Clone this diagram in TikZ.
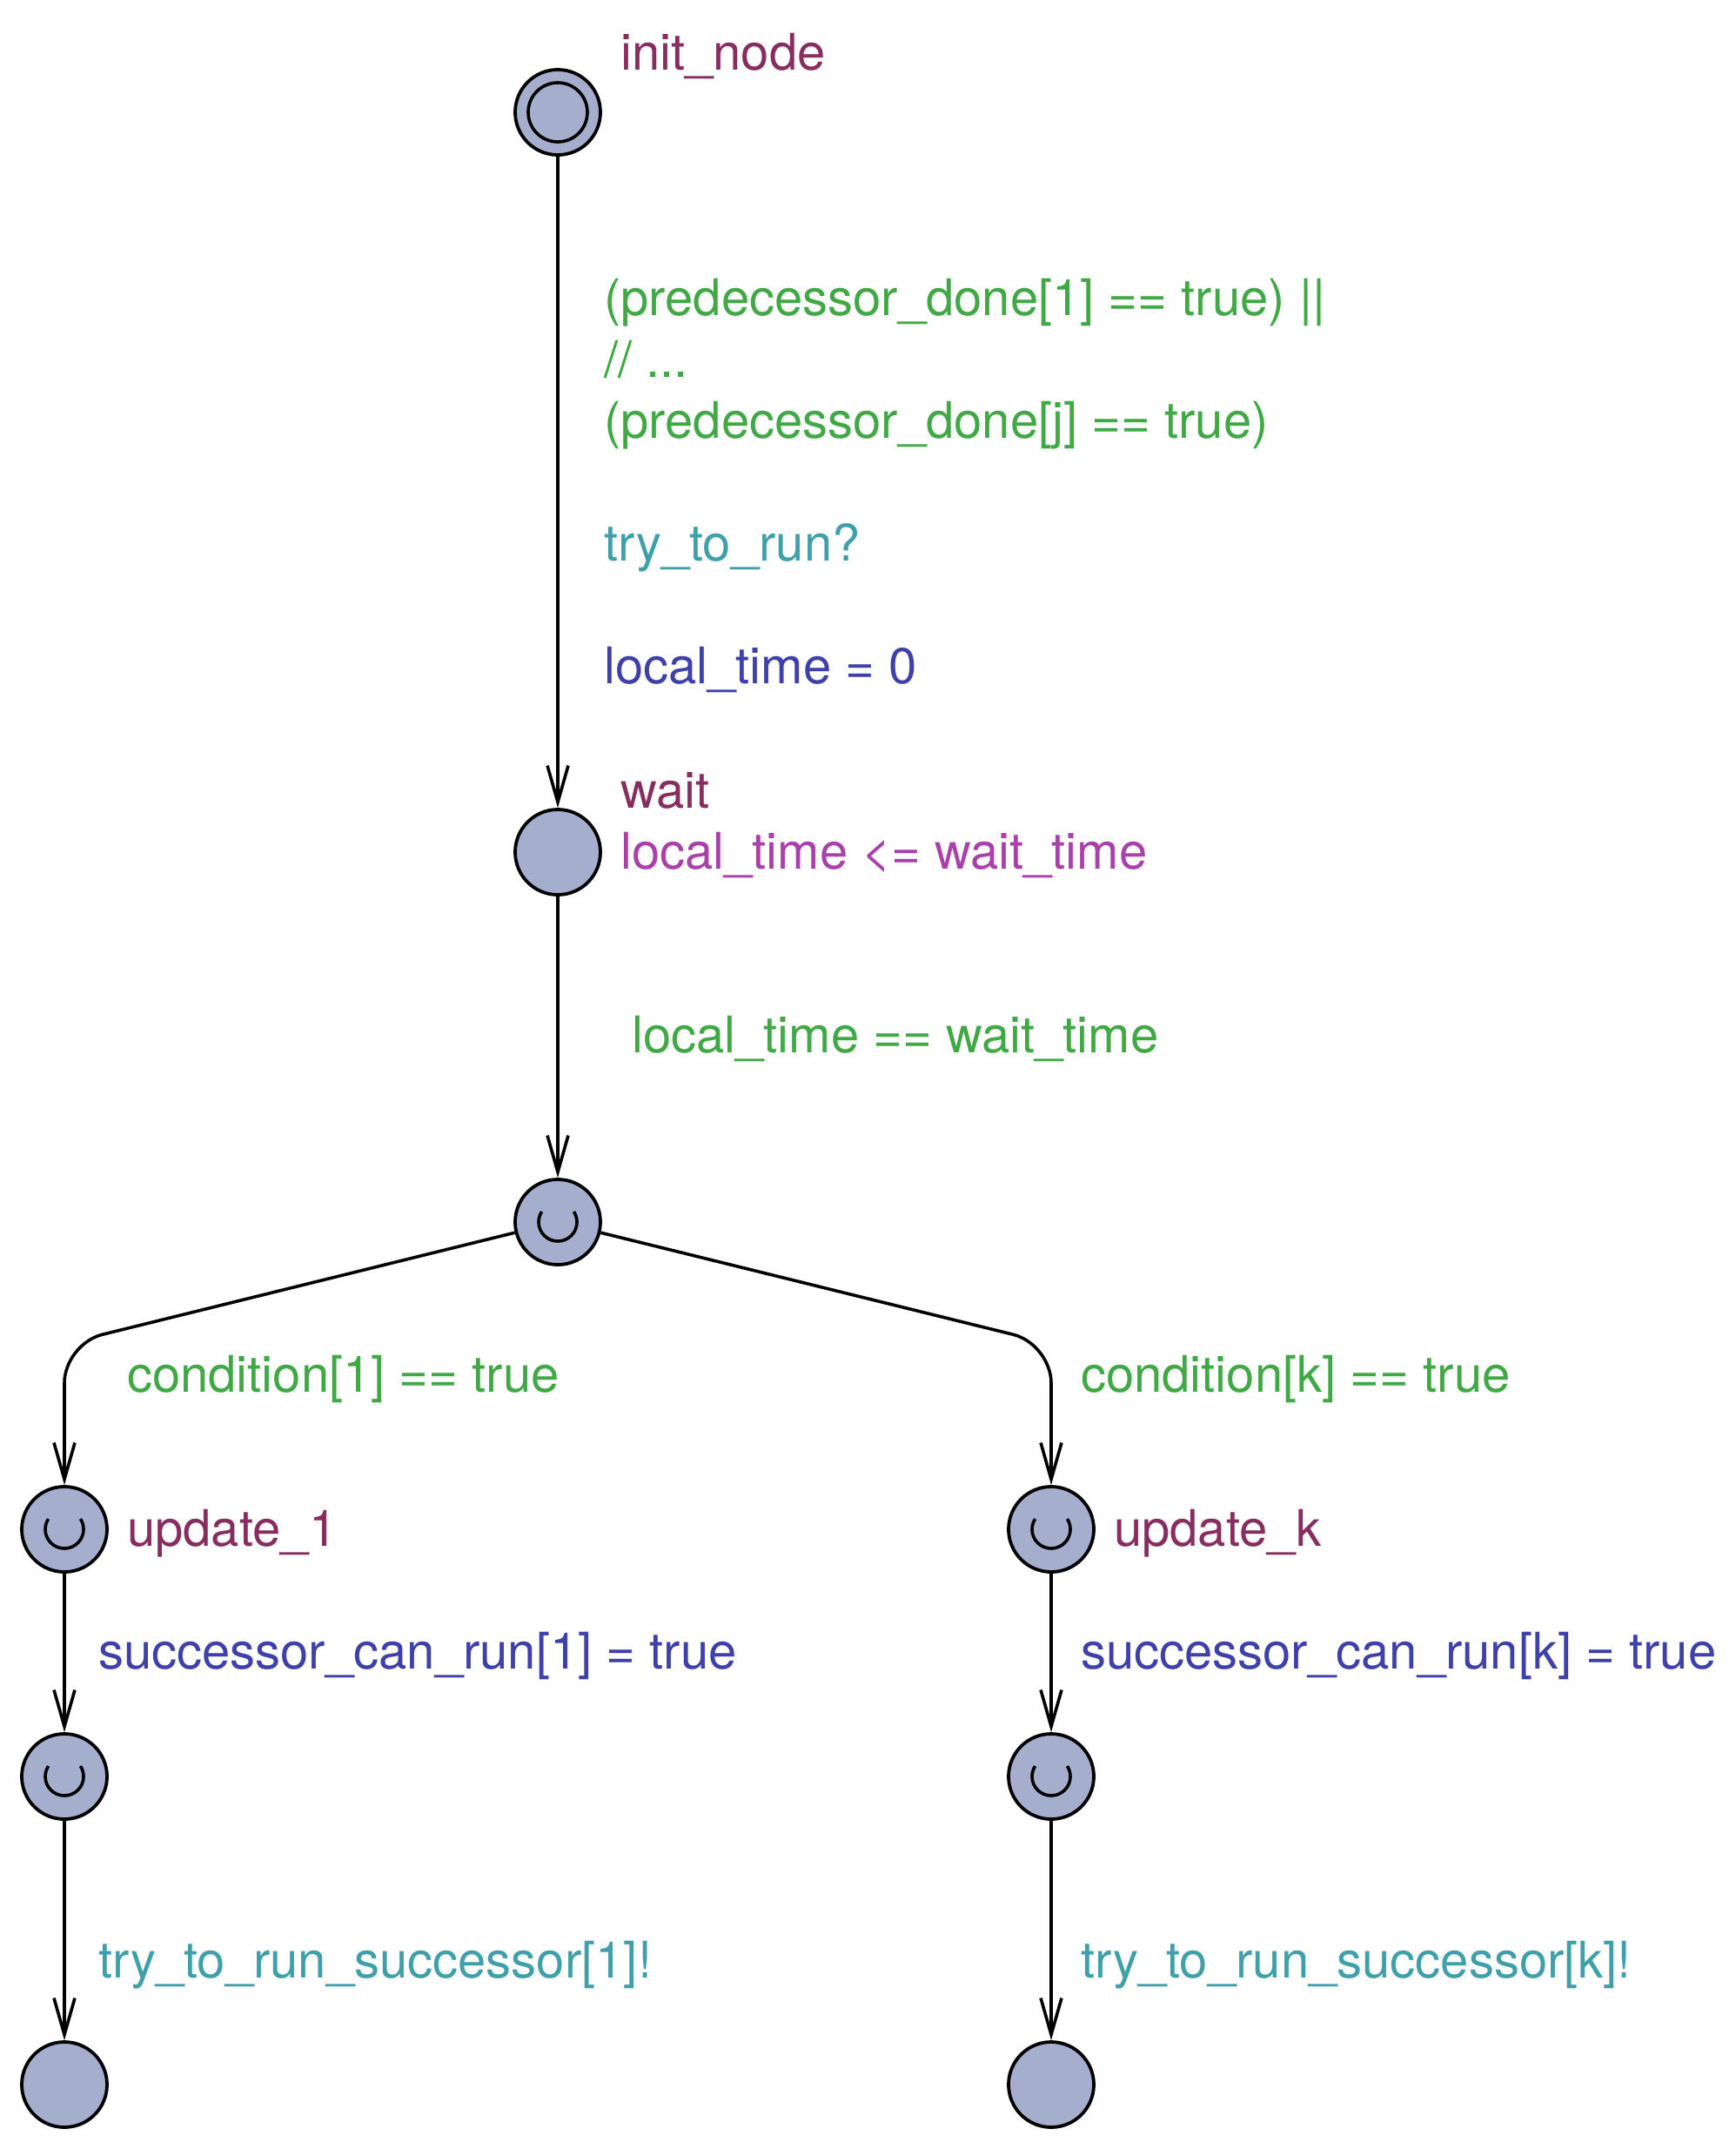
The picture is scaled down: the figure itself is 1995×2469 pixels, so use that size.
\documentclass[tikz,border=0pt]{standalone}
\usepackage{fontspec}
\setmainfont{TeX Gyre Heros}
\usetikzlibrary{arrows.meta}
\definecolor{locfill}{RGB}{165,175,205}
\definecolor{namecol}{RGB}{135,45,95}
\definecolor{guardcol}{RGB}{65,168,70}
\definecolor{synccol}{RGB}{64,160,170}
\definecolor{updcol}{RGB}{64,64,170}
\definecolor{invcol}{RGB}{170,64,170}
\begin{document}
\begin{tikzpicture}[x=1pt,y=-1pt,
  loc/.style={circle,draw=black,line width=3.8pt,fill=locfill,minimum size=98pt,inner sep=0pt},
  edge/.style={line width=3.6pt,-{Straight Barb[length=42pt,width=24pt,line width=3.6pt]}},
  lbl/.style={anchor=base west,inner sep=0pt,font=\fontsize{58}{70}\selectfont},
  namelbl/.style={lbl,text=namecol},
  guardlbl/.style={lbl,text=guardcol},
  synclbl/.style={lbl,text=synccol},
  updlbl/.style={lbl,text=updcol},
  invlbl/.style={lbl,text=invcol},
  commit/.style={line width=3.6pt},
]
\useasboundingbox (0,0) rectangle (1995,2469);

% locations
\node[loc] (init) at (641,129) {};
\draw[line width=3.6pt] (init.center) circle[radius=34];
\node[loc] (wait) at (641,979) {};
\node[loc] (mid)  at (641,1404) {};
\node[loc] (u1)   at (74,1757) {};
\node[loc] (uk)   at (1208,1757) {};
\node[loc] (s1)   at (74,2041) {};
\node[loc] (sk)   at (1208,2041) {};
\node[loc] (e1)   at (74,2395) {};
\node[loc] (ek)   at (1208,2395) {};

% committed markers
\foreach \n in {mid,u1,uk,s1,sk}
  \draw[commit] ([shift={(213:22)}]\n.center) arc[start angle=213,end angle=-33,radius=22];

% bend points of the branching edges
\coordinate (cl) at (74,1544);
\coordinate (cr) at (1208,1544);

% edges
\draw[edge] (init) -- (wait);
\draw[edge] (wait) -- (mid);
\draw[edge,rounded corners=45pt] (mid) -- (cl) -- (u1);
\draw[edge,rounded corners=45pt] (mid) -- (cr) -- (uk);
\draw[edge] (u1) -- (s1);
\draw[edge] (uk) -- (sk);
\draw[edge] (s1) -- (e1);
\draw[edge] (sk) -- (ek);

% location names and invariant
\node[namelbl] (ninit) at (713,80) {init\_node};
\node[namelbl] (nwait) at (713,928) {wait};
\node[invlbl]  (iwait) at (713,998) {local\_time <= wait\_time};
\node[namelbl] (nu1) at (146,1776) {update\_1};
\node[namelbl] (nuk) at (1280,1776) {update\_k};

% edge labels
\node[guardlbl] (g1a) at (694,362) {(predecessor\_done[1] == true) ||};
\node[guardlbl] (g1b) at (694,433) {// ...};
\node[guardlbl] (g1c) at (694,503) {(predecessor\_done[j] == true)};
\node[synclbl]  (y1)  at (694,644) {try\_to\_run?};
\node[updlbl]   (a1)  at (694,785) {local\_time = 0};
\node[guardlbl] (g2)  at (726,1209) {local\_time == wait\_time};
\node[guardlbl] (gl)  at (146,1599) {condition[1] == true};
\node[guardlbl] (gr)  at (1242,1599) {condition[k] == true};
\node[updlbl]   (al)  at (113,1917) {successor\_can\_run[1] = true};
\node[updlbl]   (ar)  at (1242,1917) {successor\_can\_run[k] = true};
\node[synclbl]  (yl)  at (113,2272) {try\_to\_run\_successor[1]!};
\node[synclbl]  (yr)  at (1242,2272) {try\_to\_run\_successor[k]!};
\end{tikzpicture}
\end{document}
